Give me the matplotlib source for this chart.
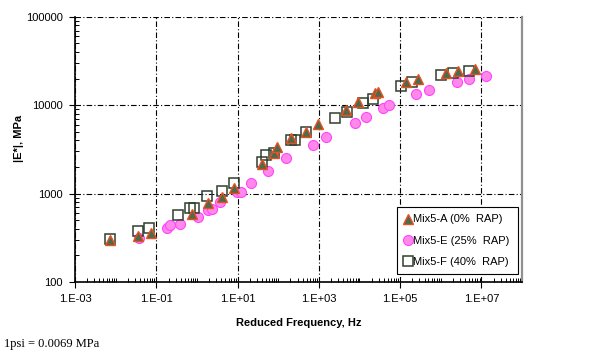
import numpy as np
import matplotlib
matplotlib.use("Agg")
import matplotlib.pyplot as plt
from matplotlib.ticker import FixedLocator, LogLocator, FuncFormatter, NullFormatter

# Mix5-A (0% RAP)
freq_a = [0.0072, 0.035, 0.074, 0.75, 1.85, 4.1, 8.1, 39, 77, 92, 203, 474, 935,
          4560, 8980, 23500, 29400, 136000, 283000, 1.38e6, 2.72e6, 7.1e6]
e_a = [300, 334, 360, 593, 790, 925, 1170, 2190, 2850, 3340, 4220, 4930, 6080,
       8770, 10800, 13700, 14100, 18300, 19700, 23100, 24300, 25600]

# Mix5-E (25% RAP)
freq_e = [0.037, 0.18, 0.216, 0.38, 1.05, 1.85, 2.32, 3.66, 9.5, 12, 22, 55, 153,
          705, 1470, 7590, 14900, 37000, 51900, 253000, 527000, 2.57e6, 5.07e6, 1.33e7]
e_e = [316, 411, 444, 456, 548, 658, 676, 811, 1030, 1030, 1330, 1780, 2500,
       3510, 4330, 6240, 7310, 9250, 10000, 13300, 14800, 18300, 19700, 21400]

# Mix5-F (40% RAP)
freq_f = [0.0072, 0.035, 0.066, 0.34, 0.67, 0.84, 1.75, 4.1, 8.1, 39, 49, 77, 203,
          254, 474, 2440, 4820, 11900, 21000, 108000, 202000, 1.04e6, 2.05e6, 5.07e6]
e_f = [308, 380, 411, 577, 693, 693, 948, 1080, 1330, 2250, 2700, 2850, 4000,
       4000, 4930, 7110, 8320, 10550, 11700, 16400, 18300, 21900, 23100, 24300]

labels = ["Mix5-A (0%  RAP)", "Mix5-E (25%  RAP)", "Mix5-F (40%  RAP)"]
x_major = [1e-3, 1e-1, 1e1, 1e3, 1e5, 1e7]

plt.rcParams['font.family'] = ['Liberation Sans', 'DejaVu Sans']
fig = plt.figure(figsize=(6, 3.52), dpi=100)
ax = fig.add_axes([0.125, 0.199, 0.745, 0.753])

ax.plot(freq_e, e_e, linestyle='none', marker='o', ms=7.2, mfc='#ff88e8',
        mec='#ff44ff', mew=0.8, label=labels[1], zorder=3)
ax.plot(freq_f, e_f, linestyle='none', marker='s', ms=6.5, mfc='none',
        mec='#2f3f2f', mew=1.1, label=labels[2], zorder=4)
ax.plot(freq_a, e_a, linestyle='none', marker='^', ms=6.5, mfc='#4e6a4c',
        mec='#e8501e', mew=1.0, label=labels[0], zorder=5)

ax.set_xscale('log')
ax.set_yscale('log')
ax.set_xlim(1e-3, 1e8)
ax.set_ylim(100, 100000)

ax.xaxis.set_major_locator(FixedLocator(x_major))
ax.xaxis.set_minor_locator(LogLocator(base=10, subs=np.arange(1, 10), numticks=40))
ax.xaxis.set_minor_formatter(NullFormatter())
ax.xaxis.set_major_formatter(FuncFormatter(lambda v, p: "1.E%+03d" % int(round(np.log10(v)))))
ax.yaxis.set_major_locator(FixedLocator([100, 1000, 10000, 100000]))
ax.yaxis.set_minor_locator(LogLocator(base=10, subs=np.arange(2, 10), numticks=20))
ax.yaxis.set_minor_formatter(NullFormatter())
ax.yaxis.set_major_formatter(FuncFormatter(lambda v, p: "%d" % v))

ax.tick_params(which='major', direction='out', length=4, width=0.8, labelsize=8, pad=5)
ax.tick_params(which='minor', direction='in', length=3, width=0.7)

ax.grid(True, which='major', color='black', linestyle=(0, (5, 2, 1, 2)), linewidth=0.8)

ax.spines['top'].set_visible(False)
ax.spines['left'].set_linewidth(1.2)
ax.spines['bottom'].set_linewidth(1.2)
ax.spines['right'].set_color('#909090')
ax.spines['right'].set_linewidth(1.6)

ax.set_xlabel("Reduced Frequency, Hz", fontsize=8, fontweight='bold', labelpad=10)
ax.set_ylabel("|E*|, MPa", fontsize=8, fontweight='bold')
ax.yaxis.set_label_coords(-0.115, 0.54)

handles, labs = ax.get_legend_handles_labels()
order = [2, 0, 1]
leg = ax.legend([handles[i] for i in order], [labs[i] for i in order],
                loc='lower right', bbox_to_anchor=(0.995, 0.02), fontsize=8,
                frameon=True, fancybox=False, edgecolor='black', framealpha=1,
                handlelength=0.6, handletextpad=0.2, labelspacing=1.0,
                borderpad=0.7, borderaxespad=0.2)
leg.get_frame().set_linewidth(0.8)

fig.text(0.007, 0.015, "1psi = 0.0069 MPa", fontsize=9, family='Liberation Serif')

fig.savefig("out.png", dpi=100)
